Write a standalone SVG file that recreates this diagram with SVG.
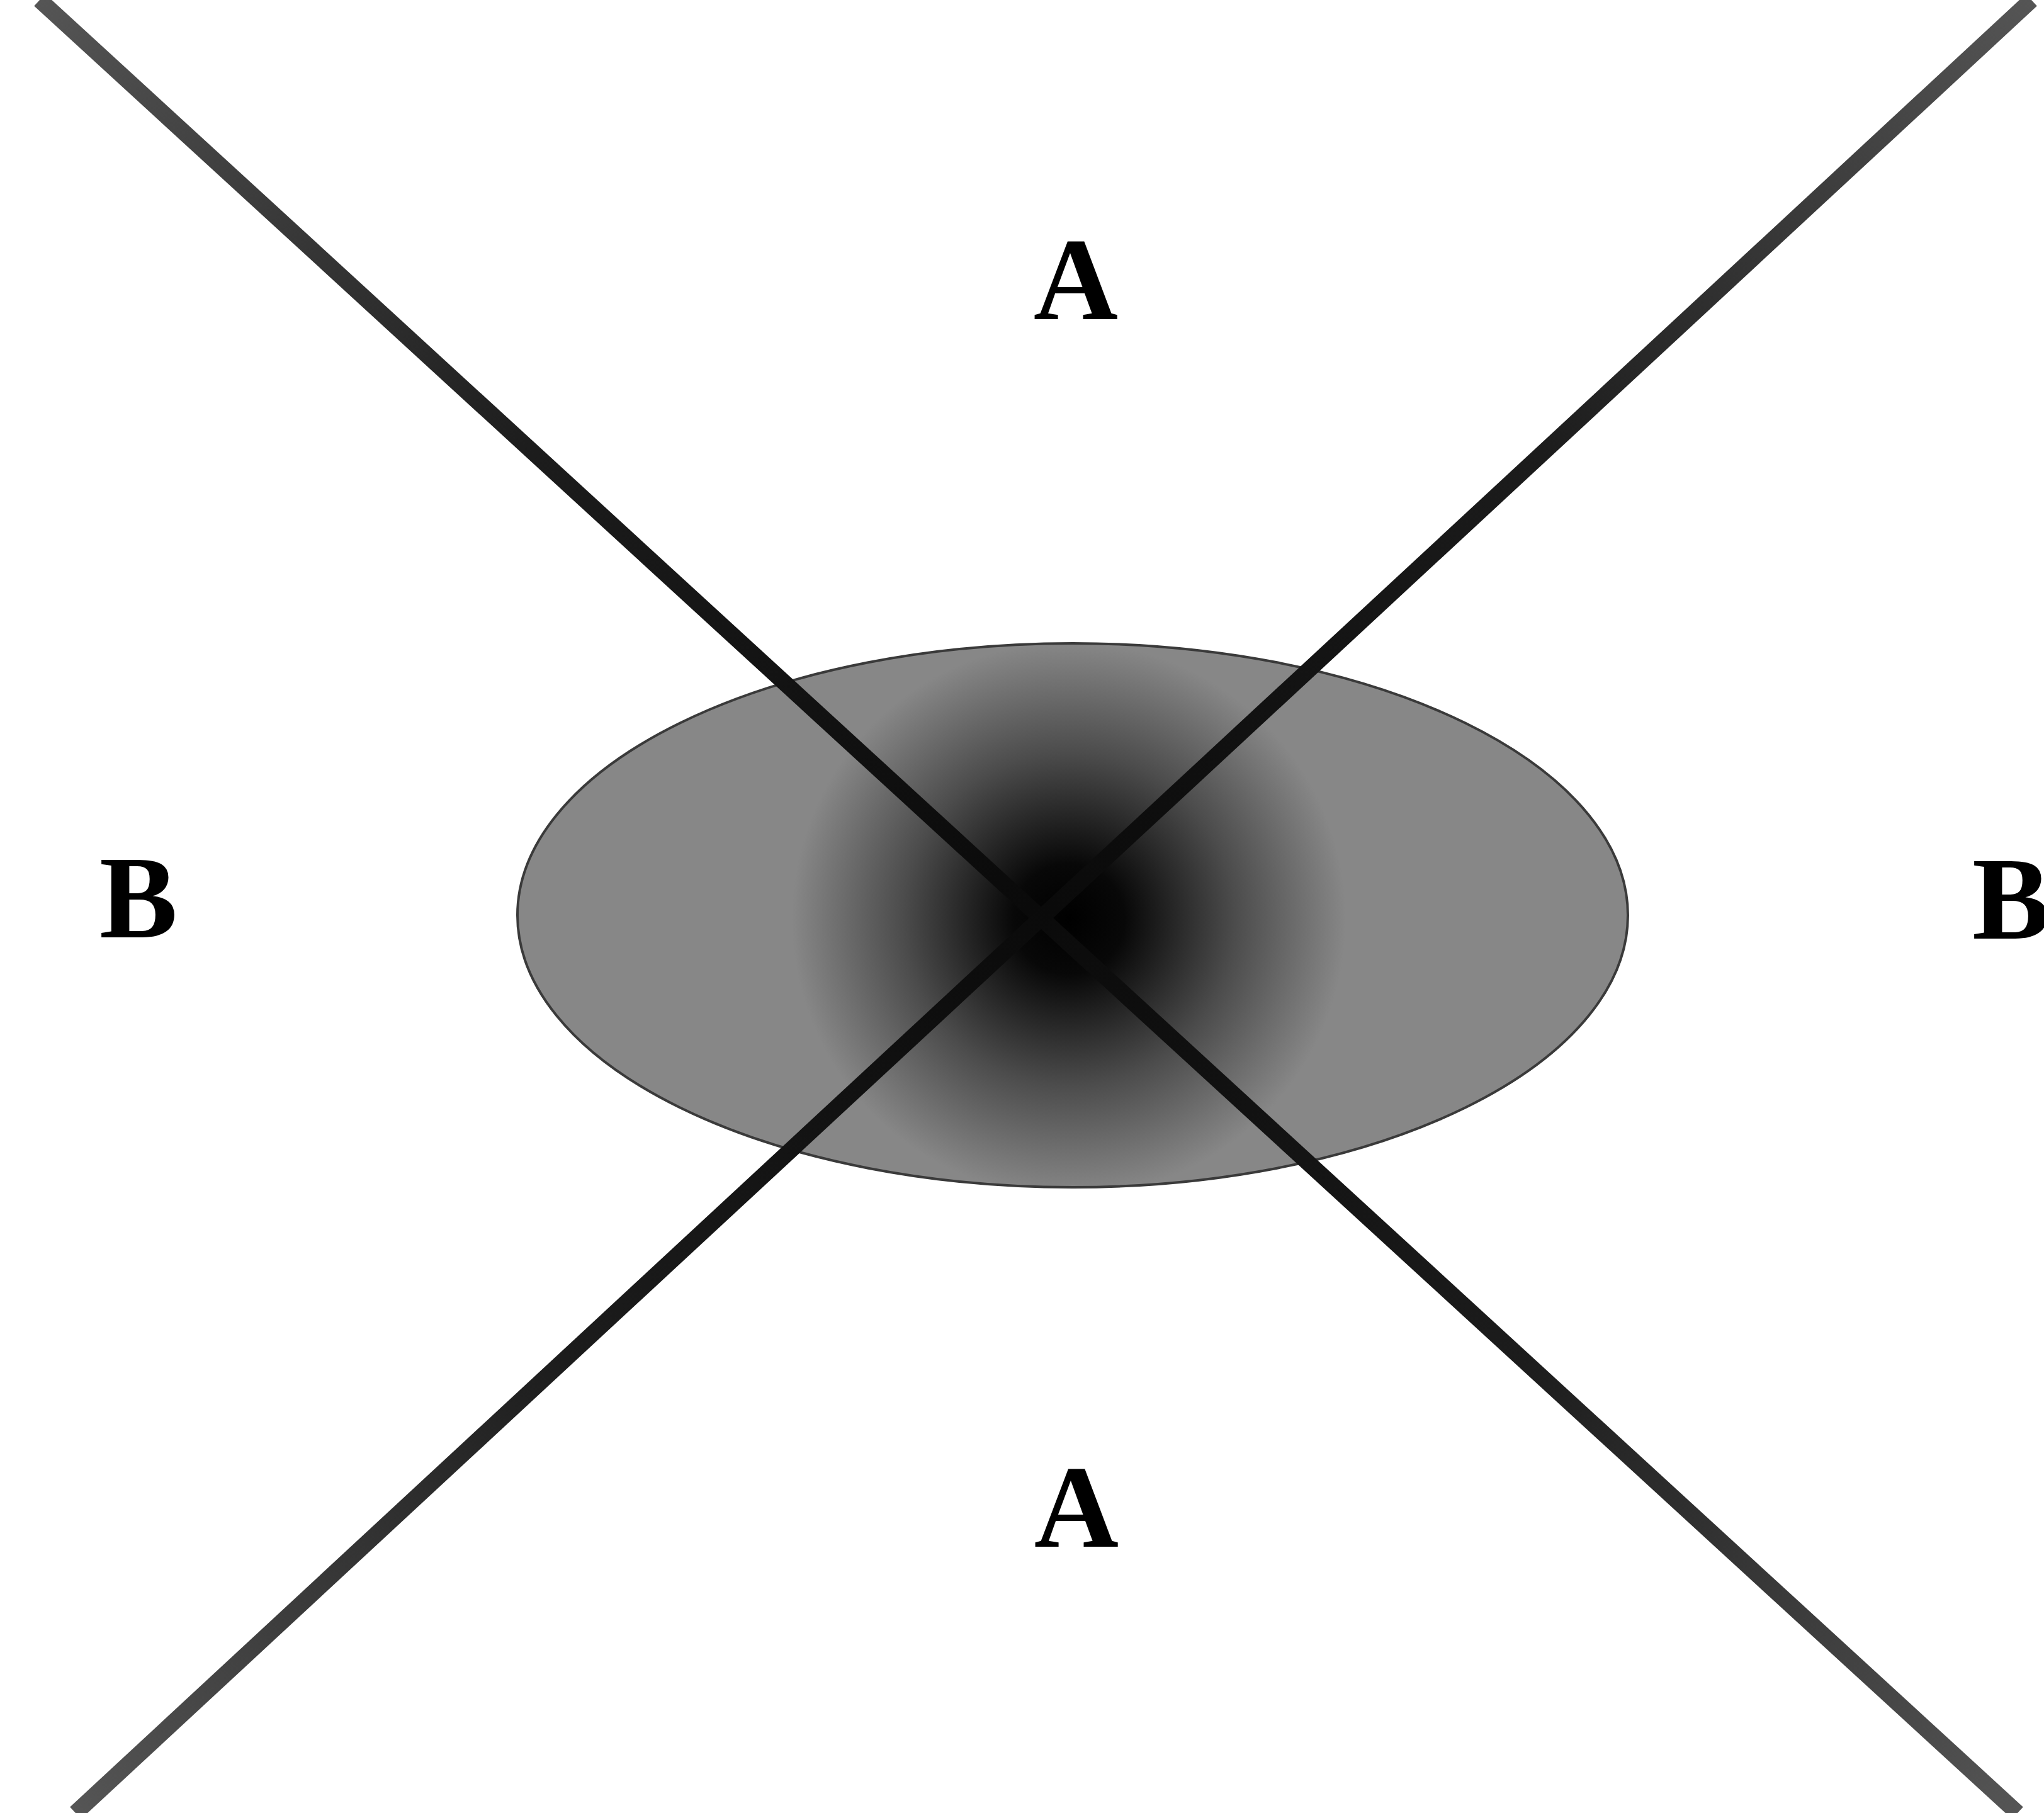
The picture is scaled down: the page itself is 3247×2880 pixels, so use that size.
<svg xmlns="http://www.w3.org/2000/svg" width="3247" height="2880" viewBox="0 0 3247 2880">
  <style>
    .lbl { font-family: "Liberation Serif", "Times New Roman", serif; font-weight: bold; font-size: 186px; fill: #000; }
    .axis { fill: none; stroke-width: 26; stroke-linecap: butt; }
  </style>
  <defs>
    <radialGradient id="core" gradientUnits="userSpaceOnUse" cx="1698" cy="1460" r="440">
      <stop offset="0" stop-color="#000"/>
      <stop offset="0.2" stop-color="#080808"/>
      <stop offset="0.6" stop-color="#4c4c4c"/>
      <stop offset="1" stop-color="#878787"/>
    </radialGradient>
    <linearGradient id="l1" gradientUnits="userSpaceOnUse" x1="63" y1="0" x2="3205" y2="2880">
      <stop offset="0" stop-color="#555"/>
      <stop offset="0.25" stop-color="#1c1c1c"/>
      <stop offset="0.5" stop-color="#0a0a0a"/>
      <stop offset="0.75" stop-color="#1c1c1c"/>
      <stop offset="1" stop-color="#555"/>
    </linearGradient>
    <linearGradient id="l2" gradientUnits="userSpaceOnUse" x1="3227" y1="0" x2="120" y2="2880">
      <stop offset="0" stop-color="#555"/>
      <stop offset="0.25" stop-color="#1c1c1c"/>
      <stop offset="0.5" stop-color="#0a0a0a"/>
      <stop offset="0.75" stop-color="#1c1c1c"/>
      <stop offset="1" stop-color="#555"/>
    </linearGradient>
  </defs>
  <rect x="0" y="0" width="3247" height="2880" fill="#fff"/>
  <g id="blob">
    <ellipse cx="1704" cy="1454" rx="882" ry="432" fill="url(#core)" stroke="#3a3a3a" stroke-width="4"/>
  </g>
  <g id="connectors">
    <line class="axis" x1="63" y1="0" x2="3205" y2="2880" stroke="url(#l1)"/>
    <line class="axis" x1="3227" y1="0" x2="120" y2="2880" stroke="url(#l2)"/>
  </g>
  <g id="label-a-top"><text class="lbl" x="1709" y="507" text-anchor="middle">A</text></g>
  <g id="label-a-bottom"><text class="lbl" x="1710" y="2457" text-anchor="middle">A</text></g>
  <g id="label-b-left"><text class="lbl" x="220" y="1489" text-anchor="middle">B</text></g>
  <g id="label-b-right"><text class="lbl" x="3133" y="1491">B</text></g>
</svg>
